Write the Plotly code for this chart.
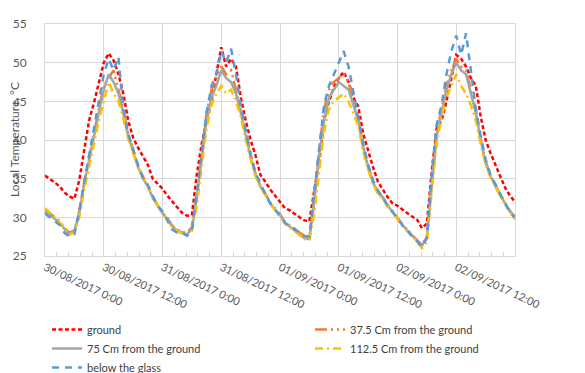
import pandas as pd
import plotly.graph_objects as go

# hourly readings from 30/08/2017 00:00 to 03/09/2017 00:00
times = pd.date_range("2017-08-30 00:00", "2017-09-03 00:00", freq="1h")

ground = [35.4,35.0,34.5,34.0,33.2,32.7,32.4,34.8,38.5,42.5,44.8,47.5,50.0,51.2,50.3,48.5,46.0,42.5,40.3,39.0,37.8,36.8,35.0,34.4,
          33.7,32.8,32.0,31.3,30.6,30.2,30.3,35.5,39.5,42.5,45.0,48.5,52.0,49.5,50.5,49.5,45.5,42.5,40.0,38.0,35.5,34.6,33.6,32.8,
          32.0,31.2,30.9,30.4,30.0,29.6,29.5,33.5,37.3,42.5,45.0,46.8,48.0,48.8,47.5,45.5,44.3,40.8,38.5,36.5,34.6,33.6,32.6,31.8,
          31.5,31.0,30.5,30.1,29.7,28.6,29.2,36.0,41.5,42.5,45.0,48.0,51.0,50.5,49.5,48.0,47.0,43.0,40.0,38.3,36.8,35.2,33.8,32.8,32.0]

cm37 = [31.0,30.5,30.0,29.5,28.6,28.0,28.3,30.8,34.5,37.8,41.0,44.0,47.0,48.0,49.0,46.5,44.0,40.8,38.6,36.6,35.2,34.1,32.6,31.6,
        30.6,29.9,28.9,28.4,28.1,28.0,28.7,32.8,38.0,43.5,46.5,48.0,49.5,48.5,49.0,46.5,43.8,40.8,38.0,35.6,34.1,33.1,31.9,31.1,
        30.4,29.4,29.0,28.5,28.0,27.6,27.4,32.5,38.8,44.0,46.5,47.5,48.0,48.5,47.5,45.0,42.8,39.2,36.6,34.6,33.3,32.6,31.6,30.8,
        29.9,29.1,28.4,27.7,27.1,26.4,27.6,35.0,41.0,44.0,47.0,49.0,50.5,49.5,49.0,46.5,43.8,40.2,37.2,35.4,34.1,32.9,31.9,30.8,30.0]

cm75 = [30.8,30.3,29.8,29.3,28.5,27.8,28.2,30.5,34.3,37.5,40.5,43.5,46.5,48.5,47.5,46.0,43.5,40.5,38.5,36.5,35.0,34.0,32.5,31.5,
        30.5,29.8,28.8,28.3,28.0,27.8,28.5,32.5,37.5,42.5,45.5,47.0,49.0,48.0,47.5,46.0,43.5,40.5,37.8,35.5,34.0,33.0,31.8,31.0,
        30.3,29.3,28.8,28.3,27.8,27.3,27.2,32.0,38.0,42.5,45.5,46.5,47.5,47.0,46.5,44.5,42.5,39.0,36.5,34.5,33.2,32.5,31.5,30.7,
        29.8,29.0,28.3,27.6,27.0,26.3,27.5,34.5,40.5,43.5,46.5,48.5,50.0,49.0,48.5,46.0,43.5,40.0,37.0,35.3,34.0,32.8,31.8,30.7,29.8]

cm112 = [31.2,30.6,30.0,29.3,28.5,27.8,28.0,30.0,33.5,36.5,39.5,42.5,45.0,47.5,46.0,45.0,42.8,40.2,38.3,36.5,35.0,34.0,32.6,31.6,
         30.6,29.7,28.7,28.2,27.9,27.8,28.2,31.5,36.5,41.5,44.5,46.0,47.0,46.0,46.5,45.0,43.0,40.0,37.5,35.3,33.9,32.9,31.7,30.9,
         30.2,29.2,28.7,28.2,27.7,27.2,27.0,30.5,36.0,41.0,44.0,45.0,45.5,46.0,45.0,43.5,41.8,38.5,36.2,34.3,33.0,32.4,31.4,30.6,
         29.7,28.9,28.2,27.5,26.9,26.0,26.8,33.5,39.5,43.0,45.5,47.0,48.5,47.0,46.0,44.5,42.5,39.5,36.8,35.2,33.9,32.7,31.7,30.6,29.8]

glass = [30.5,30.0,29.5,29.0,28.0,27.5,27.8,30.8,34.5,38.0,41.5,45.0,48.5,50.5,49.0,50.8,44.0,40.8,38.8,36.8,35.2,34.2,32.8,31.5,
         30.8,29.6,28.4,28.0,28.0,27.6,28.3,33.0,38.5,43.5,47.0,48.5,51.5,50.0,51.8,48.5,44.5,41.0,38.0,35.8,34.3,33.0,31.8,31.0,
         30.2,29.3,28.8,28.5,28.0,27.6,27.5,33.0,39.0,44.5,47.0,48.5,50.0,51.5,49.5,46.0,43.0,39.5,36.8,34.8,33.5,32.5,31.5,30.7,
         29.8,29.0,28.3,27.5,26.9,26.2,27.3,35.5,42.0,44.5,48.5,51.5,53.5,51.0,53.8,48.5,44.0,40.5,37.5,35.5,34.2,33.0,31.8,30.6,30.0]

names = ["ground", "37.5 Cm from the ground", "75 Cm from the ground",
         "112.5 Cm from the ground", "below the glass"]
series = [ground, cm37, cm75, cm112, glass]
colors = ["#FF0000", "#ED7D31", "#A5A5A5", "#FFC000", "#5B9BD5"]
dashes = ["4px,2.5px", "12px,4px,2px,4px,2px,4px", "solid", "8px,4px,2px,4px", "7px,6px"]
legend_ids = ["legend", "legend2", "legend", "legend2", "legend"]

fig = go.Figure()
for n, s, c, d, lg in zip(names, series, colors, dashes, legend_ids):
    fig.add_trace(go.Scatter(x=times, y=s, name=n, mode="lines", legend=lg,
                             line=dict(color=c, width=2.5, dash=d)))

grid = "#D9D9D9"
leg_common = dict(orientation="v", xref="container", yref="container",
                  xanchor="left", yanchor="top", font=dict(size=11, color="#404040"),
                  itemwidth=30, bgcolor="rgba(0,0,0,0)", traceorder="normal")
fig.update_layout(
    template="none",
    width=585, height=373,
    margin=dict(l=37, r=78, t=16, b=125, autoexpand=False),
    paper_bgcolor="white", plot_bgcolor="white",
    font=dict(family="Lato, Liberation Sans, sans-serif", size=11, color="#595959"),
    showlegend=True,
    legend=dict(x=39/585, y=1-307/373, **leg_common),
    legend2=dict(x=302/585, y=1-307/373, **leg_common),
    annotations=[dict(text="Local Temperature, °C", textangle=-90,
                      xref="paper", yref="paper", x=(6-37)/470, y=0.5,
                      xanchor="center", yanchor="middle", showarrow=False,
                      font=dict(size=12, color="#595959"))],
)
fig.update_xaxes(
    range=["2017-08-30 00:00", "2017-09-03 00:00"],
    dtick=43200000, tick0="2017-08-30 00:00",
    tickformat="%d/%m/%Y %-H:%M", tickangle=25,
    showgrid=True, gridcolor=grid, gridwidth=1,
    showline=True, linecolor=grid, linewidth=1, mirror=True,
    ticks="", zeroline=False, automargin=False,
    minor=dict(dtick=8640000, ticks="inside", ticklen=4, tickcolor=grid, showgrid=False),
    tickfont=dict(size=11, color="#595959"),
)
fig.update_yaxes(
    range=[25, 55], dtick=5,
    showgrid=True, gridcolor=grid, gridwidth=1,
    showline=True, linecolor=grid, linewidth=1, mirror=True,
    ticks="", zeroline=False, automargin=False, ticklabelstandoff=15,
    tickfont=dict(size=12, color="#595959"),
)
fig.write_html("out.html")
